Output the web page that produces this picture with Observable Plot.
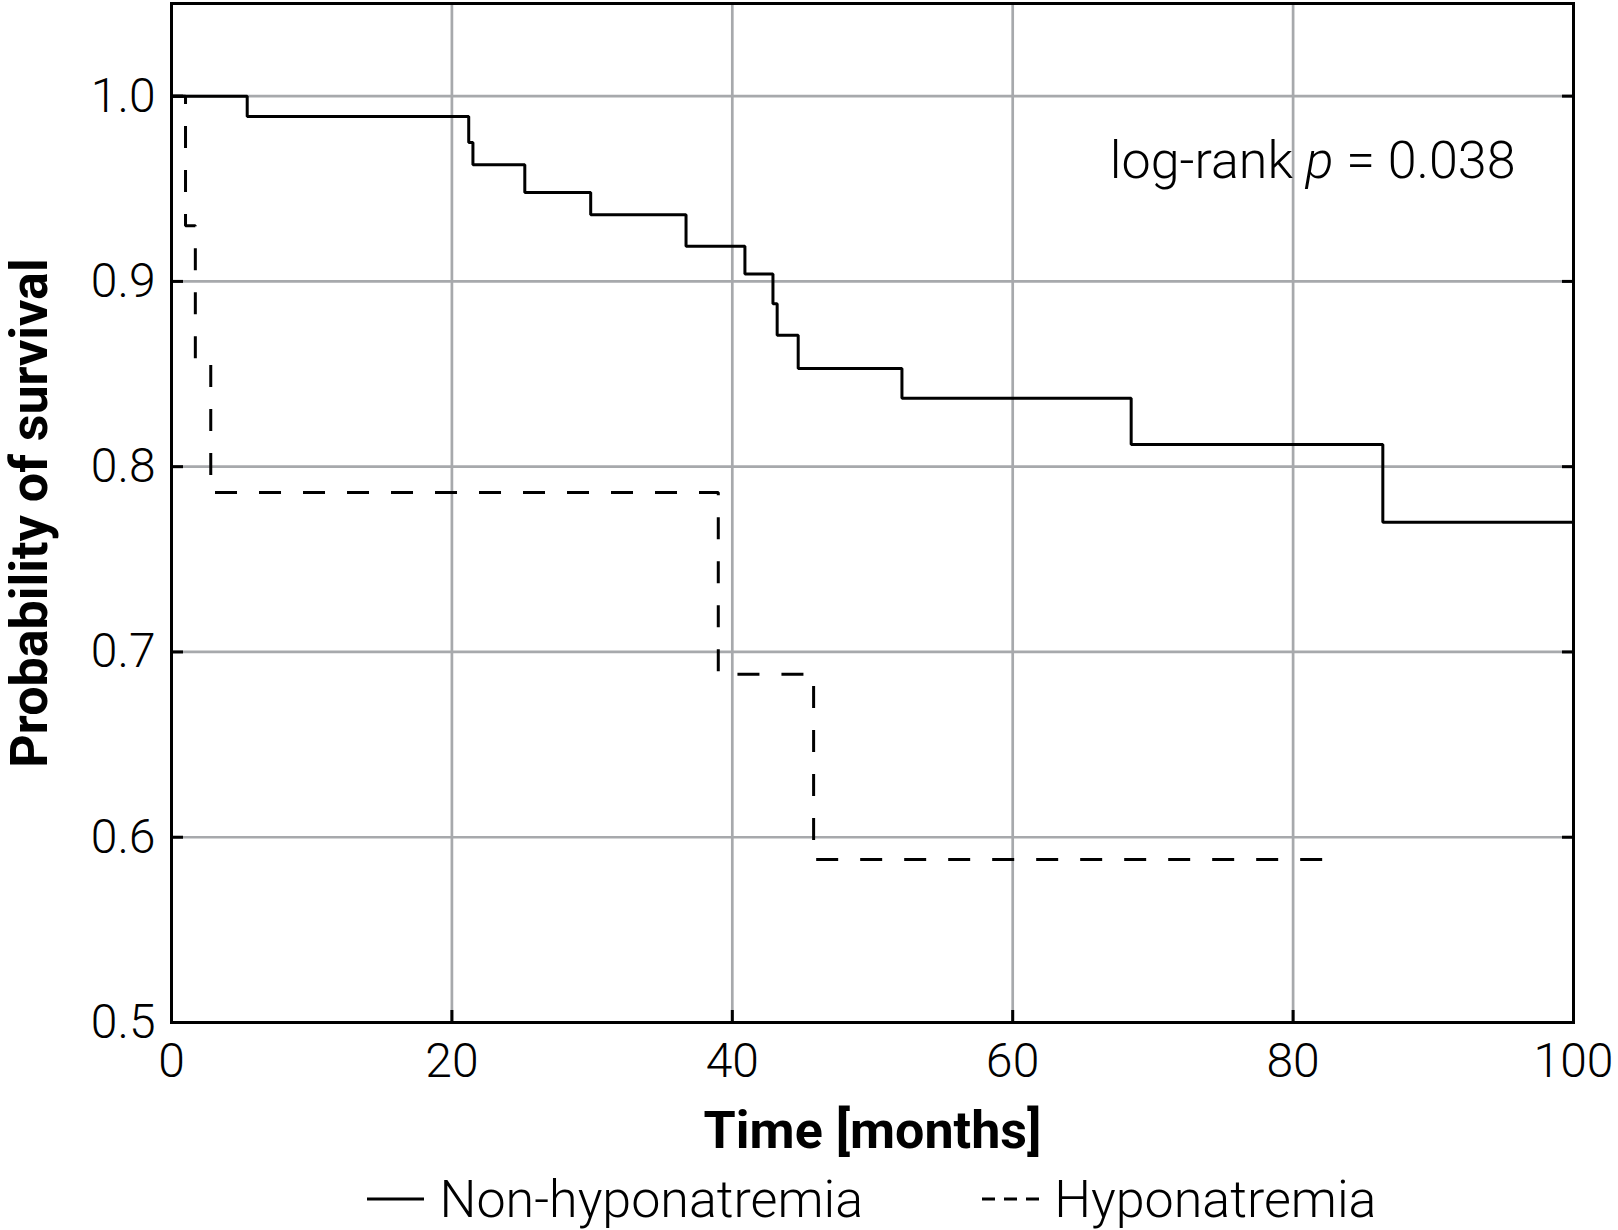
<!DOCTYPE html>
<html>
<head>
<meta charset="utf-8">
<script src="https://cdn.jsdelivr.net/npm/d3@7"></script>
<script src="https://cdn.jsdelivr.net/npm/@observablehq/plot@0.6"></script>
<style>
  body { margin: 0; background: #fff; }
  #chart { width: 1618px; }
  .legend {
    width: 1618px; height: 78px; box-sizing: border-box; padding-left: 126px;
    display: flex; justify-content: center; align-items: center;
    font-family: Roboto, sans-serif; font-weight: 300; font-size: 52px; color: #000;
  }
  .legend .item { display: flex; align-items: center; }
  .legend .item + .item { margin-left: 119px; }
  .legend svg { margin-right: 15px; }
</style>
</head>
<body>
<div id="chart"></div>
<div class="legend" id="legend"></div>
<script>
// ---- data ----
const seriesNames = ["Non-hyponatremia", "Hyponatremia"];
const nonHypoTime = [0, 5.4, 21.2, 21.5, 25.2, 29.9, 36.7, 40.9, 42.9, 43.2, 44.7, 52.1, 68.45, 86.4, 100];
const nonHypoSurv = [1.0, 0.989, 0.975, 0.963, 0.948, 0.936, 0.919, 0.904, 0.888, 0.871, 0.853, 0.837, 0.812, 0.770, 0.770];
const hypoTime = [0, 1.0, 1.7, 2.8, 39.0, 45.8, 83.1];
const hypoSurv = [1.0, 0.930, 0.858, 0.786, 0.688, 0.588, 0.588];
const xTicks = [0, 20, 40, 60, 80, 100];
const yTicks = [0.5, 0.6, 0.7, 0.8, 0.9, 1.0];
const xLabel = "Time [months]";
const yLabel = "Probability of survival";
const annotation = ["log-rank p = 0.038"];

const nonHypo = nonHypoTime.map((t, i) => ({time: t, surv: nonHypoSurv[i]}));
const hypo = hypoTime.map((t, i) => ({time: t, surv: hypoSurv[i]}));

const gridStyle = {stroke: "#a7a9ac", strokeOpacity: 1, strokeWidth: 2.7};

const plot = Plot.plot({
  width: 1618,
  height: 1160,
  marginTop: 3,
  marginBottom: 138,
  marginLeft: 171,
  marginRight: 45,
  x: {domain: [0, 100]},
  y: {domain: [0.5, 1.05]},
  style: {fontFamily: "Roboto, sans-serif", fontWeight: 300, fontSize: "48px", color: "#000", background: "#fff"},
  marks: [
    Plot.gridX(xTicks.slice(1, -1), gridStyle),
    Plot.gridY(yTicks.slice(1), gridStyle),
    Plot.line(nonHypo, {x: "time", y: "surv", curve: "step-after", stroke: "#000", strokeWidth: 3, strokeLinejoin: "miter", strokeLinecap: "butt"}),
    Plot.line(hypo, {x: "time", y: "surv", curve: "step-after", stroke: "#000", strokeWidth: 3, strokeDasharray: "22,22", strokeLinejoin: "miter", strokeLinecap: "butt"}),
    Plot.frame({stroke: "#000", strokeWidth: 3}),
    Plot.axisX(xTicks, {anchor: "bottom", tickSize: -12, tickPadding: 32, strokeWidth: 3, label: null, fill: "#000"}),
    Plot.axisY(yTicks, {anchor: "left", tickSize: -12, tickPadding: 28, strokeWidth: 3, tickFormat: d3.format(".1f"), label: null, fill: "#000"}),
    Plot.axisY(yTicks, {anchor: "right", tickSize: -12, strokeWidth: 3, tickFormat: () => "", label: null}),
    Plot.text([xLabel], {frameAnchor: "bottom", lineAnchor: "middle", textAnchor: "middle", dy: 109, fontWeight: 700, fontSize: 52, fill: "#000"}),
    Plot.text([yLabel], {frameAnchor: "left", lineAnchor: "middle", textAnchor: "middle", dx: -141, rotate: -90, fontWeight: 700, fontSize: 52, fill: "#000"}),
    Plot.text(annotation, {frameAnchor: "top-right", lineAnchor: "middle", textAnchor: "end", dx: -58, dy: 158, fontSize: 52, fontWeight: 300, fill: "#000"})
  ]
});
document.getElementById("chart").appendChild(plot);

// italic p in the annotation
d3.select(plot).selectAll("text").filter(function() { return this.textContent === annotation[0]; }).each(function() {
  const t = d3.select(this);
  const parts = annotation[0].split(" p ");
  t.text(null);
  t.append("tspan").text(parts[0] + " ");
  t.append("tspan").attr("font-style", "italic").text("p");
  t.append("tspan").text(" " + parts[1]);
});

// legend
const legend = d3.select("#legend");
seriesNames.forEach((name, i) => {
  const item = legend.append("span").attr("class", "item");
  const svg = item.append("svg").attr("width", 57).attr("height", 10);
  svg.append("line").attr("x1", 0).attr("x2", 57).attr("y1", 5).attr("y2", 5)
    .attr("stroke", "#000").attr("stroke-width", 3)
    .attr("stroke-dasharray", i === 1 ? "13,9" : null);
  item.append("span").text(name);
});
</script>
</body>
</html>
